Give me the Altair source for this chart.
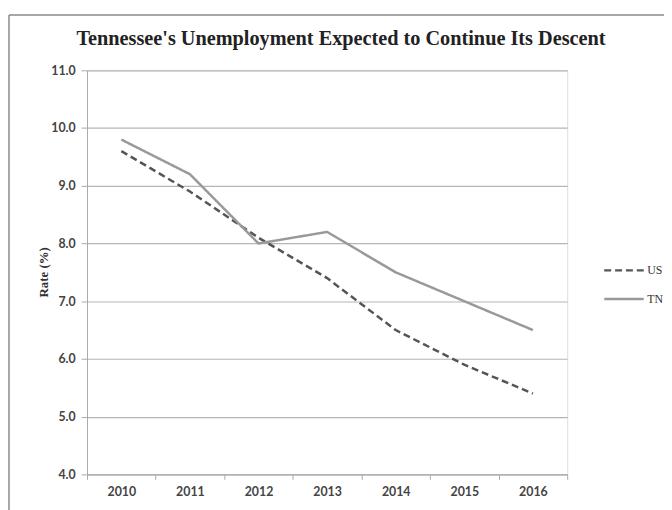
import altair as alt
import pandas as pd

years = ["2010", "2011", "2012", "2013", "2014", "2015", "2016"]
us = [9.6, 8.9, 8.1, 7.4, 6.5, 5.9, 5.4]
tn = [9.8, 9.2, 8.0, 8.2, 7.5, 7.0, 6.5]

rows = []
for y, v in zip(years, us):
    rows.append({"Year": y, "Series": "US", "Rate": v})
for y, v in zip(years, tn):
    rows.append({"Year": y, "Series": "TN", "Rate": v})
df = pd.DataFrame(rows)

lines = alt.Chart(df).mark_line(strokeWidth=2.5).encode(
    x=alt.X("Year:O", sort=years,
            scale=alt.Scale(type="band", paddingInner=0, paddingOuter=0),
            axis=alt.Axis(title=None, labelAngle=0, tickBand="extent", grid=False,
                          domainColor="#aaaaaa", tickColor="#aaaaaa", tickSize=5,
                          labelFont="Lato", labelFontSize=12.5, labelFontWeight="bold",
                          labelColor="#444444", labelPadding=6)),
    y=alt.Y("Rate:Q", scale=alt.Scale(domain=[4, 11], nice=False, zero=False),
            axis=alt.Axis(title="Rate (%)", values=[4, 5, 6, 7, 8, 9, 10, 11], format=".1f",
                          grid=True, gridColor="#b5b5b5", gridWidth=1.2,
                          domainColor="#aaaaaa", tickColor="#aaaaaa", tickSize=6,
                          labelFont="Lato", labelFontSize=12.5, labelFontWeight="bold",
                          labelColor="#444444", labelPadding=6,
                          titleFont="Liberation Serif", titleFontSize=13,
                          titleFontWeight="bold", titleColor="#333333",
                          titleX=-44, titleY=204, titleAngle=-90, titleAlign="center",
                          titleBaseline="middle")),
    color=alt.Color("Series:N", sort=["US", "TN"],
                    scale=alt.Scale(domain=["US", "TN"], range=["#555555", "#999999"]),
                    legend=alt.Legend(title=None, orient="none", legendX=522, legendY=181,
                                      symbolType="stroke", symbolSize=1600,
                                      symbolStrokeWidth=2.5, rowPadding=1,
                                      labelFont="Liberation Serif", labelFontSize=12,
                                      labelColor="#333333", labelOffset=2)),
    strokeDash=alt.StrokeDash("Series:N", sort=["US", "TN"],
                              scale=alt.Scale(domain=["US", "TN"], range=[[7, 4], [1, 0]]),
                              legend=None),
)

frame_df = pd.DataFrame({"k": [0]})
left_border = alt.Chart(frame_df).mark_rule(color="#8a8a8a", strokeWidth=1.5).encode(
    x=alt.value(-79), y=alt.value(-56), y2=alt.value(447))
top_border = alt.Chart(frame_df).mark_rule(color="#8a8a8a", strokeWidth=1.5).encode(
    x=alt.value(-79), x2=alt.value(590), y=alt.value(-56))

chart = alt.layer(lines, left_border, top_border).properties(
    width=486, height=409,
    title=alt.TitleParams("Tennessee's Unemployment Expected to Continue Its Descent",
                          font="Liberation Serif", fontSize=20.5, fontWeight="bold",
                          color="#222222", offset=20, anchor="middle", frame="group",
                          dx=14, dy=56),
    autosize=alt.AutoSizeParams(type="none"),
    padding={"left": 80, "top": 60, "right": 98, "bottom": 33},
).configure_view(stroke=None).configure(background="white")

chart.save("out.html", embed_options={"renderer": "svg", "actions": False})
